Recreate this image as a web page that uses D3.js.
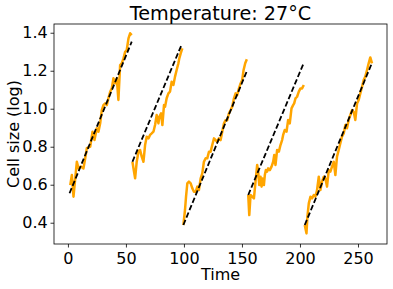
<!DOCTYPE html>
<html>
<head>
<meta charset="utf-8">
<script src="https://cdn.jsdelivr.net/npm/d3@7"></script>
<style>
  body { margin: 0; background: #fff; }
  text { font-family: "DejaVu Sans", sans-serif; }
</style>
</head>
<body>
<svg id="chart" width="393" height="289"></svg>
<script>
// Measured cell size over time (null marks a division)
const time = [
  2.0, 3.4, 4.8, 6.3, 7.7, 9.1, 11.2, 13.4, 14.9, 16.3, 19.2, 21.2, 22.9, 24.9, 26.3, 27.8, 29.2, 30.6, 32.1, 33.5,
  34.9, 36.4, 37.8, 39.2, 40.7, 42.1, 43.5, 45.0, 46.4, 47.9, 49.3, 50.7, 52.2, 53.6, 55.0, null,
  55.6, 56.5, 57.9, 59.3, 60.8, 62.2, 63.6, 65.1, 66.5, 67.9, 69.4, 70.8, 72.2, 73.7, 75.1, 76.5, 78.0, 78.8, 80.3,
  81.4, 82.8, 83.7, 85.1, 86.6, 88.0, 89.4, 90.9, 92.3, 93.7, 95.2, 96.0, 97.2, 98.6, null,
  99.5, 100.9, 101.8, 102.9, 104.3, 105.8, 107.2, 108.6, 110.1, 111.5, 112.9, 114.4, 115.8, 117.2, 118.7, 120.1,
  121.6, 123.0, 124.4, 125.9, 127.3, 128.7, 130.1, 131.6, 133.0, 134.5, 135.9, 137.3, 138.8, 140.2, 141.6, 143.1,
  144.5, 145.9, 147.4, 148.8, 150.2, 151.4, 152.8, 154.2, null,
  155.4, 156.3, 157.4, 158.8, 160.3, 161.7, 163.1, 164.0, 164.9, 166.0, 166.9, 167.7, 168.9, 169.7, 170.6, 171.7,
  172.6, 174.0, 175.5, 176.9, 177.8, 178.9, 180.3, 181.8, 183.2, 184.6, 185.5, 186.9, 188.4, 189.8, 191.2, 192.7,
  194.1, 195.0, 196.1, 197.5, 199.0, 200.4, 201.8, 203.3, null,
  204.1, 205.6, 206.4, 207.6, 209.0, 210.4, 211.9, 213.3, 214.7, 216.2, 217.6, 219.0, 220.5, 221.9, 223.3, 224.8,
  226.2, 227.6, 229.1, 230.5, 231.9, 233.4, 234.8, 236.2, 237.7, 239.1, 240.5, 242.0, 243.4, 244.9, 246.3, 247.7,
  249.2, 250.6, 252.0, 253.5, 254.9, 256.3, 257.8, 259.2, 260.6, 262.1
];
const cellSize = [
  0.598, 0.651, 0.537, 0.634, 0.721, 0.686, 0.696, 0.686, 0.739, 0.792, 0.800, 0.879, 0.835, 0.897, 0.879, 0.923, 0.993, 1.019, 1.028, 1.019,
  1.055, 1.089, 1.107, 1.160, 1.134, 1.160, 1.046, 1.230, 1.239, 1.265, 1.300, 1.309, 1.370, 1.397, 1.388, null,
  0.721, 0.686, 0.634, 0.721, 0.774, 0.783, 0.748, 0.721, 0.809, 0.853, 0.844, 0.862, 0.870, 0.879, 0.914, 0.967, 0.923, 0.958, 0.976,
  0.914, 1.019, 1.011, 1.055, 1.081, 1.090, 1.142, 1.125, 1.169, 1.204, 1.239, 1.265, 1.291, 1.318, null,
  0.388, 0.467, 0.537, 0.607, 0.616, 0.607, 0.581, 0.563, 0.563, 0.590, 0.572, 0.633, 0.660, 0.721, 0.739, 0.739,
  0.774, 0.774, 0.809, 0.844, 0.835, 0.826, 0.844, 0.835, 0.879, 0.923, 0.940, 0.940, 0.976, 0.993, 1.011, 1.055,
  1.081, 1.072, 1.107, 1.133, 1.151, 1.204, 1.239, 1.260, null,
  0.546, 0.440, 0.546, 0.537, 0.528, 0.616, 0.704, 0.669, 0.598, 0.642, 0.590, 0.633, 0.598, 0.651, 0.677, 0.669,
  0.686, 0.677, 0.695, 0.721, 0.756, 0.704, 0.783, 0.774, 0.809, 0.835, 0.862, 0.888, 0.879, 0.941, 0.923, 1.002,
  1.019, 1.028, 1.054, 1.063, 1.090, 1.107, 1.107, 1.125, null,
  0.388, 0.344, 0.432, 0.502, 0.537, 0.528, 0.546, 0.537, 0.572, 0.642, 0.572, 0.616, 0.642, 0.633, 0.590, 0.677,
  0.669, 0.695, 0.721, 0.651, 0.748, 0.783, 0.818, 0.853, 0.870, 0.914, 0.897, 0.941, 0.967, 0.993, 0.984, 0.941,
  1.028, 1.046, 1.081, 1.116, 1.151, 1.169, 1.204, 1.239, 1.270, 1.239
];

// Linear fit per cycle: start / end
const fitStartTime = [1.4, 55.6, 99.5, 155.4, 204.1];
const fitStartSize = [0.555, 0.721, 0.388, 0.546, 0.388];
const fitEndTime = [55.0, 98.1, 154.0, 202.7, 262.1];
const fitEndSize = [1.353, 1.339, 1.195, 1.233, 1.242];

const xTicks = [0, 50, 100, 150, 200, 250];
const yTicks = [0.4, 0.6, 0.8, 1.0, 1.2, 1.4];

const svg = d3.select("#chart"),
    margin = { top: 24, right: 6, bottom: 45, left: 54 },
    width = +svg.attr("width") - margin.left - margin.right,
    height = +svg.attr("height") - margin.top - margin.bottom;

const x = d3.scaleLinear().domain([-12, 275]).range([0, width]);
const y = d3.scaleLinear().domain([0.288, 1.446]).range([height, 0]);

const g = svg.append("g")
    .attr("transform", `translate(${margin.left},${margin.top})`);

const points = time.map((t, i) => ({ t: t, v: cellSize[i] }));

const line = d3.line()
    .defined(d => d.t != null && d.v != null)
    .x(d => x(d.t))
    .y(d => y(d.v));

g.append("path")
    .datum(points)
    .attr("fill", "none")
    .attr("stroke", "orange")
    .attr("stroke-width", 2.5)
    .attr("stroke-linejoin", "round")
    .attr("d", line);

// fitted lines
const fits = fitStartTime.map((t, i) => [
    { t: t, v: fitStartSize[i] },
    { t: fitEndTime[i], v: fitEndSize[i] }
]);

g.selectAll(".fit")
    .data(fits)
    .enter()
    .append("path")
    .attr("class", "fit")
    .attr("fill", "none")
    .attr("stroke", "black")
    .attr("stroke-width", 1.8)
    .attr("stroke-dasharray", "5.5,2.5")
    .attr("d", line);

// axes
const xAxis = g.append("g")
    .attr("transform", `translate(0,${height})`)
    .call(d3.axisBottom(x).tickValues(xTicks).tickSize(3.5).tickPadding(5).tickFormat(d3.format("d")));

const yAxis = g.append("g")
    .call(d3.axisLeft(y).tickValues(yTicks).tickSize(3.5).tickPadding(2.8).tickFormat(d3.format(".1f")));

[xAxis, yAxis].forEach(a => {
    a.select(".domain").remove();
    a.selectAll("text")
        .style("font-family", "DejaVu Sans")
        .style("font-size", "16px")
        .attr("fill", "#000");
    a.selectAll("line").attr("stroke", "#000").attr("stroke-width", 0.8);
});

// frame
g.append("rect")
    .attr("width", width)
    .attr("height", height)
    .attr("fill", "none")
    .attr("stroke", "#000")
    .attr("stroke-width", 0.8);

svg.append("text")
    .attr("x", margin.left + width / 2)
    .attr("y", 19.5)
    .attr("text-anchor", "middle")
    .style("font-size", "19.2px")
    .text("Temperature: 27°C");

svg.append("text")
    .attr("x", margin.left + width / 2)
    .attr("y", 280)
    .attr("text-anchor", "middle")
    .style("font-size", "16px")
    .text("Time");

svg.append("text")
    .attr("transform", `translate(18.5,${margin.top + height / 2}) rotate(-90)`)
    .attr("text-anchor", "middle")
    .style("font-size", "16px")
    .text("Cell size (log)");
</script>
</body>
</html>
